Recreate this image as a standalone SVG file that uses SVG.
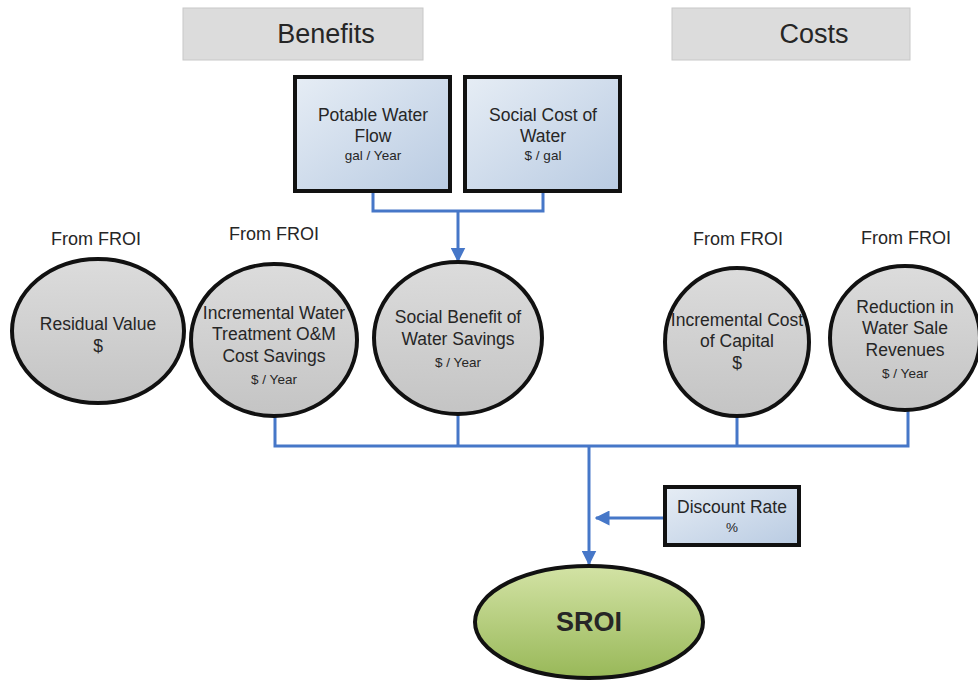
<svg xmlns="http://www.w3.org/2000/svg" width="978" height="683" viewBox="0 0 978 683">
  <defs>
    <linearGradient id="gBox" x1="0" y1="0" x2="1" y2="1">
      <stop offset="0" stop-color="#e6edf5"/>
      <stop offset="1" stop-color="#b9cbe2"/>
    </linearGradient>
    <linearGradient id="gCircle" x1="0" y1="0" x2="0" y2="1">
      <stop offset="0" stop-color="#dcdcdc"/>
      <stop offset="1" stop-color="#c4c4c4"/>
    </linearGradient>
    <linearGradient id="gSroi" x1="0" y1="0" x2="0" y2="1">
      <stop offset="0" stop-color="#d3e3a5"/>
      <stop offset="1" stop-color="#98b858"/>
    </linearGradient>
    <marker id="arrow" viewBox="0 0 10 10" refX="9" refY="5" markerWidth="5" markerHeight="5" orient="auto-start-reverse">
      <path d="M0,0 L10,5 L0,10 z" fill="#4677c8"/>
    </marker>
  </defs>
  <style>
    text { font-family: "Liberation Sans", Arial, sans-serif; fill: #262626; text-anchor: middle; }
    .hdr { fill: #dcdcdc; stroke: #c8c8c8; stroke-width: 1; }
    .hdrt { font-size: 27px; }
    .box { fill: url(#gBox); stroke: #111; stroke-width: 4; }
    .circ { fill: url(#gCircle); stroke: #111; stroke-width: 4; }
    .sroi { fill: url(#gSroi); stroke: #111; stroke-width: 4; }
    .big { font-size: 17.5px; }
    .unit { font-size: 13.5px; }
    .from { font-size: 18px; }
    .conn { fill: none; stroke: #4677c8; stroke-width: 3; }
  </style>

  <rect width="978" height="683" fill="#ffffff"/>

  <!-- section headers -->
  <g id="hdr-benefits">
    <rect class="hdr" x="183" y="8" width="240" height="52"/>
    <text class="hdrt" x="326" y="43">Benefits</text>
  </g>
  <g id="hdr-costs">
    <rect class="hdr" x="672" y="8" width="238" height="52"/>
    <text class="hdrt" x="814" y="43">Costs</text>
  </g>

  <!-- connectors -->
  <g id="connectors">
    <path class="conn" d="M373,192 V211 H543 V192"/>
    <path class="conn" d="M458,211 V261" marker-end="url(#arrow)"/>
    <path class="conn" d="M275,417 V446 H908 V410"/>
    <path class="conn" d="M458,415 V446"/>
    <path class="conn" d="M737,417 V446"/>
    <path class="conn" d="M589,446 V564" marker-end="url(#arrow)"/>
    <path class="conn" d="M664,518 H596" marker-end="url(#arrow)"/>
  </g>

  <!-- inputs -->
  <g id="potable-water-flow">
    <rect class="box" x="295" y="77" width="155" height="114"/>
    <text class="big" x="373" y="121">Potable Water</text>
    <text class="big" x="373" y="142">Flow</text>
    <text class="unit" x="373" y="160">gal / Year</text>
  </g>
  <g id="social-cost-of-water">
    <rect class="box" x="465" y="77" width="155" height="114"/>
    <text class="big" x="543" y="121">Social Cost of</text>
    <text class="big" x="543" y="142">Water</text>
    <text class="unit" x="543" y="160">$ / gal</text>
  </g>

  <!-- FROI labels -->
  <text class="from" x="96" y="245">From FROI</text>
  <text class="from" x="274" y="240">From FROI</text>
  <text class="from" x="738" y="245">From FROI</text>
  <text class="from" x="906" y="244">From FROI</text>

  <g id="residual-value">
    <ellipse class="circ" cx="98" cy="331" rx="86" ry="72"/>
    <text class="big" x="98" y="330">Residual Value</text>
    <text class="big" x="98" y="352">$</text>
  </g>
  <g id="incremental-om">
    <ellipse class="circ" cx="274" cy="340" rx="83" ry="76"/>
    <text class="big" x="274" y="319">Incremental Water</text>
    <text class="big" x="274" y="340">Treatment O&amp;M</text>
    <text class="big" x="274" y="362">Cost Savings</text>
    <text class="unit" x="274" y="384">$ / Year</text>
  </g>
  <g id="social-benefit">
    <ellipse class="circ" cx="458" cy="338" rx="84" ry="76"/>
    <text class="big" x="458" y="323">Social Benefit of</text>
    <text class="big" x="458" y="345">Water Savings</text>
    <text class="unit" x="458" y="367">$ / Year</text>
  </g>
  <g id="incremental-capital">
    <ellipse class="circ" cx="737" cy="342" rx="72" ry="74"/>
    <text class="big" x="737" y="326">Incremental Cost</text>
    <text class="big" x="737" y="347">of Capital</text>
    <text class="big" x="737" y="369">$</text>
  </g>
  <g id="water-sale-reduction">
    <ellipse class="circ" cx="905" cy="338" rx="75" ry="72"/>
    <text class="big" x="905" y="313">Reduction in</text>
    <text class="big" x="905" y="334">Water Sale</text>
    <text class="big" x="905" y="356">Revenues</text>
    <text class="unit" x="905" y="378">$ / Year</text>
  </g>

  <g id="discount-rate">
    <rect class="box" x="665" y="487" width="134" height="58"/>
    <text class="big" x="732" y="513">Discount Rate</text>
    <text class="unit" x="732" y="532">%</text>
  </g>

  <g id="sroi">
    <ellipse class="sroi" cx="589" cy="622" rx="114" ry="56"/>
    <text x="589" y="631" font-size="27" font-weight="bold">SROI</text>
  </g>
</svg>
